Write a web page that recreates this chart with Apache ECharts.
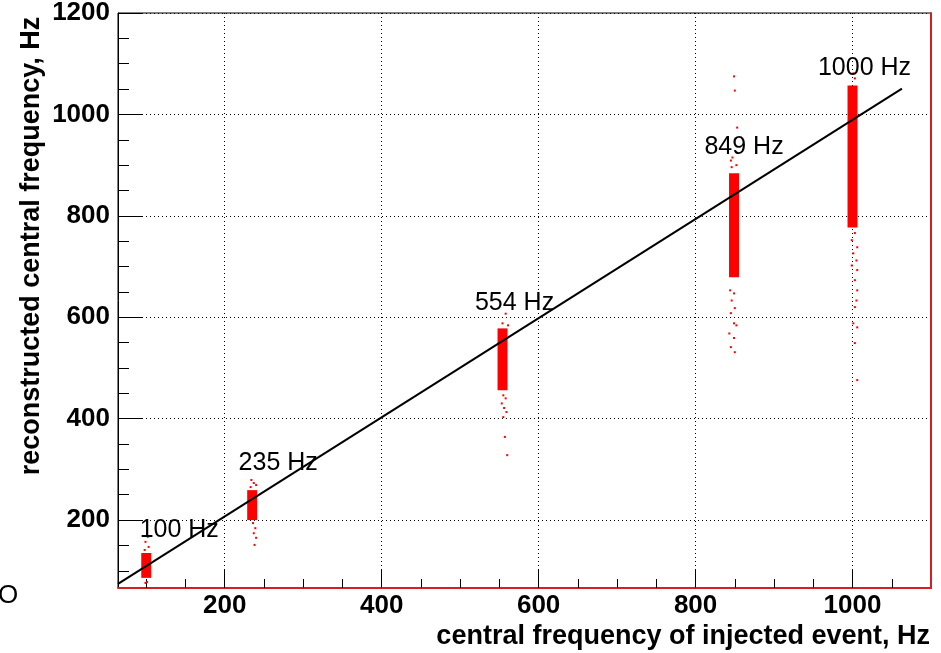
<!DOCTYPE html>
<html>
<head>
<meta charset="utf-8">
<script src="https://cdn.jsdelivr.net/npm/echarts@6/dist/echarts.min.js"></script>
<style>
  html, body { margin: 0; padding: 0; background: #fff; }
  #chart { width: 941px; height: 653px; }
</style>
</head>
<body>
<div id="chart"></div>
<script>
// Injected central frequencies (Hz) and the dense band of reconstructed values at each
const injectedFreq = [100, 235, 554, 849, 1000];
const bandLow  = [86, 200, 456, 679, 777];
const bandHigh = [135, 259, 578, 884, 1057];

// Sparse reconstructed events outside the dense bands: [injected, reconstructed]
const sparse100 = [[102, 167], [99, 157], [103, 147], [98, 141], [101, 78], [99, 76]];
const sparse235 = [[234, 279], [237, 273], [240, 269], [233, 265], [236, 194], [239, 184], [237, 174], [240, 165], [238, 151]];
const sparse554 = [[558, 607], [554, 588], [561, 584], [555, 446], [558, 440], [553, 430], [556, 421], [559, 413], [555, 403], [557, 364], [560, 328]];
const sparse849 = [[849, 1075], [850, 1047], [853, 974], [847, 915], [845, 909], [846, 896], [852, 900],
                   [844, 653], [849, 647], [846, 633], [850, 618], [845, 608], [849, 588], [852, 584], [843, 568], [849, 559], [845, 541], [850, 531]];
const sparse1000 = [[1001, 1081], [1003, 1071], [1003, 766], [999, 752], [1006, 738], [1001, 726], [1005, 712], [999, 702],
                    [1006, 693], [1003, 673], [1006, 653], [1005, 633], [1003, 620], [1001, 588], [1006, 580], [1003, 549], [1006, 476]];

// Reference line through the points
const refLineX = [64, 1063];
const refLineY = [74, 1051];

// Axis ranges and tick values
const xRange = [64, 1100];
const yRange = [66, 1200];
const xMajor = [200, 400, 600, 800, 1000];
const xMinor = [100, 150, 250, 300, 350, 450, 500, 550, 650, 700, 750, 850, 900, 950, 1050];
const yMajor = [200, 400, 600, 800, 1000, 1200];
const yMinor = [100, 150, 250, 300, 350, 450, 500, 550, 650, 700, 750, 850, 900, 950, 1050, 1100, 1150];

const FONT = "'Liberation Sans', Arial, Helvetica, sans-serif";
const RED = '#ff0000';
const FRAME_RED = '#d42020';

const bands = injectedFreq.map((f, i) => [f, bandLow[i], bandHigh[i]]);
const sparse = [].concat(sparse100, sparse235, sparse554, sparse849, sparse1000);
const labelOffsets = [[33, -23], [26, -27], [12, -25], [10, -26], [12, -17]];
const labelPoints = injectedFreq.map((f, i) => ({
  value: [f, bandHigh[i]],
  label: { offset: labelOffsets[i] }
}));

const chart = echarts.init(document.getElementById('chart'), null, { renderer: 'canvas' });

const hidden = { show: false };
const plain = v => String(v);

chart.setOption({
  animation: false,
  backgroundColor: '#ffffff',
  grid: {
    left: 118, right: 10, top: 13, bottom: 65,
    show: true, borderColor: '#000', borderWidth: 1, backgroundColor: 'transparent'
  },
  xAxis: [
    {
      type: 'value', min: xRange[0], max: xRange[1], position: 'bottom',
      axisLine: { show: true, onZero: false, lineStyle: { color: FRAME_RED, width: 2 } },
      axisTick: { show: true, inside: true, length: 18, customValues: xMajor, lineStyle: { color: '#000', width: 1 } },
      axisLabel: { customValues: xMajor, formatter: plain, color: '#000', fontSize: 26, fontWeight: 'bold', fontFamily: FONT, margin: 5 },
      splitLine: { show: true, lineStyle: { color: '#000', width: 1, type: [1, 3] } }
    },
    {
      type: 'value', min: xRange[0], max: xRange[1], position: 'bottom',
      axisLine: hidden,
      axisTick: { show: true, inside: true, length: 9, customValues: xMinor, lineStyle: { color: '#000', width: 1 } },
      axisLabel: hidden, splitLine: hidden
    }
  ],
  yAxis: [
    {
      type: 'value', min: yRange[0], max: yRange[1], position: 'left',
      axisLine: { show: true, onZero: false, lineStyle: { color: '#000', width: 1 } },
      axisTick: { show: true, inside: true, length: 24, customValues: yMajor, lineStyle: { color: '#000', width: 1 } },
      axisLabel: { customValues: yMajor, formatter: plain, color: '#000', fontSize: 26, fontWeight: 'bold', fontFamily: FONT, margin: 8 },
      splitLine: { show: true, lineStyle: { color: '#000', width: 1, type: [1, 3] } }
    },
    {
      type: 'value', min: yRange[0], max: yRange[1], position: 'left',
      axisLine: hidden,
      axisTick: { show: true, inside: true, length: 11, customValues: yMinor, lineStyle: { color: '#000', width: 1 } },
      axisLabel: hidden, splitLine: hidden
    },
    {
      type: 'value', min: yRange[0], max: yRange[1], position: 'right',
      axisLine: { show: true, onZero: false, lineStyle: { color: FRAME_RED, width: 2 } },
      axisTick: hidden, axisLabel: hidden, splitLine: hidden
    }
  ],
  series: [
    {
      // dense band of reconstructed frequencies for each injection
      type: 'custom',
      xAxisIndex: 0, yAxisIndex: 0,
      data: bands,
      encode: { x: 0, y: [1, 2] },
      renderItem: function (params, api) {
        const top = api.coord([api.value(0), api.value(2)]);
        const bottom = api.coord([api.value(0), api.value(1)]);
        const w = 10;
        return {
          type: 'rect',
          shape: { x: top[0] - w / 2, y: top[1], width: w, height: bottom[1] - top[1] },
          style: { fill: RED }
        };
      },
      z: 2
    },
    {
      type: 'scatter',
      xAxisIndex: 0, yAxisIndex: 0,
      data: sparse,
      symbol: 'rect',
      symbolSize: 2,
      itemStyle: { color: RED, opacity: 1 },
      z: 2
    },
    {
      type: 'line',
      xAxisIndex: 0, yAxisIndex: 0,
      data: refLineX.map((x, i) => [x, refLineY[i]]),
      symbol: 'none',
      lineStyle: { color: '#000', width: 2 },
      z: 4
    },
    {
      type: 'scatter',
      xAxisIndex: 0, yAxisIndex: 0,
      data: labelPoints,
      symbolSize: 0,
      itemStyle: { opacity: 1 },
      label: {
        show: true, position: 'inside',
        formatter: p => p.value[0] + ' Hz',
        color: '#000', opacity: 1, fontSize: 25, fontFamily: FONT,
        textBorderWidth: 0, textShadowBlur: 0
      },
      z: 3
    }
  ],
  graphic: [
    {
      type: 'text', x: 32, y: 246, rotation: Math.PI / 2,
      style: {
        text: 'reconstructed central frequency, Hz',
        font: 'bold 27px ' + FONT, fill: '#000', align: 'center', verticalAlign: 'middle'
      }
    },
    {
      type: 'text', x: 930, y: 637,
      style: {
        text: 'central frequency of injected event, Hz',
        font: 'bold 27px ' + FONT, fill: '#000', align: 'right', verticalAlign: 'middle'
      }
    },
    {
      type: 'text', x: -2, y: 596,
      style: { text: 'O', font: 'normal 26px ' + FONT, fill: '#000', align: 'left', verticalAlign: 'middle' }
    }
  ]
});
</script>
</body>
</html>
